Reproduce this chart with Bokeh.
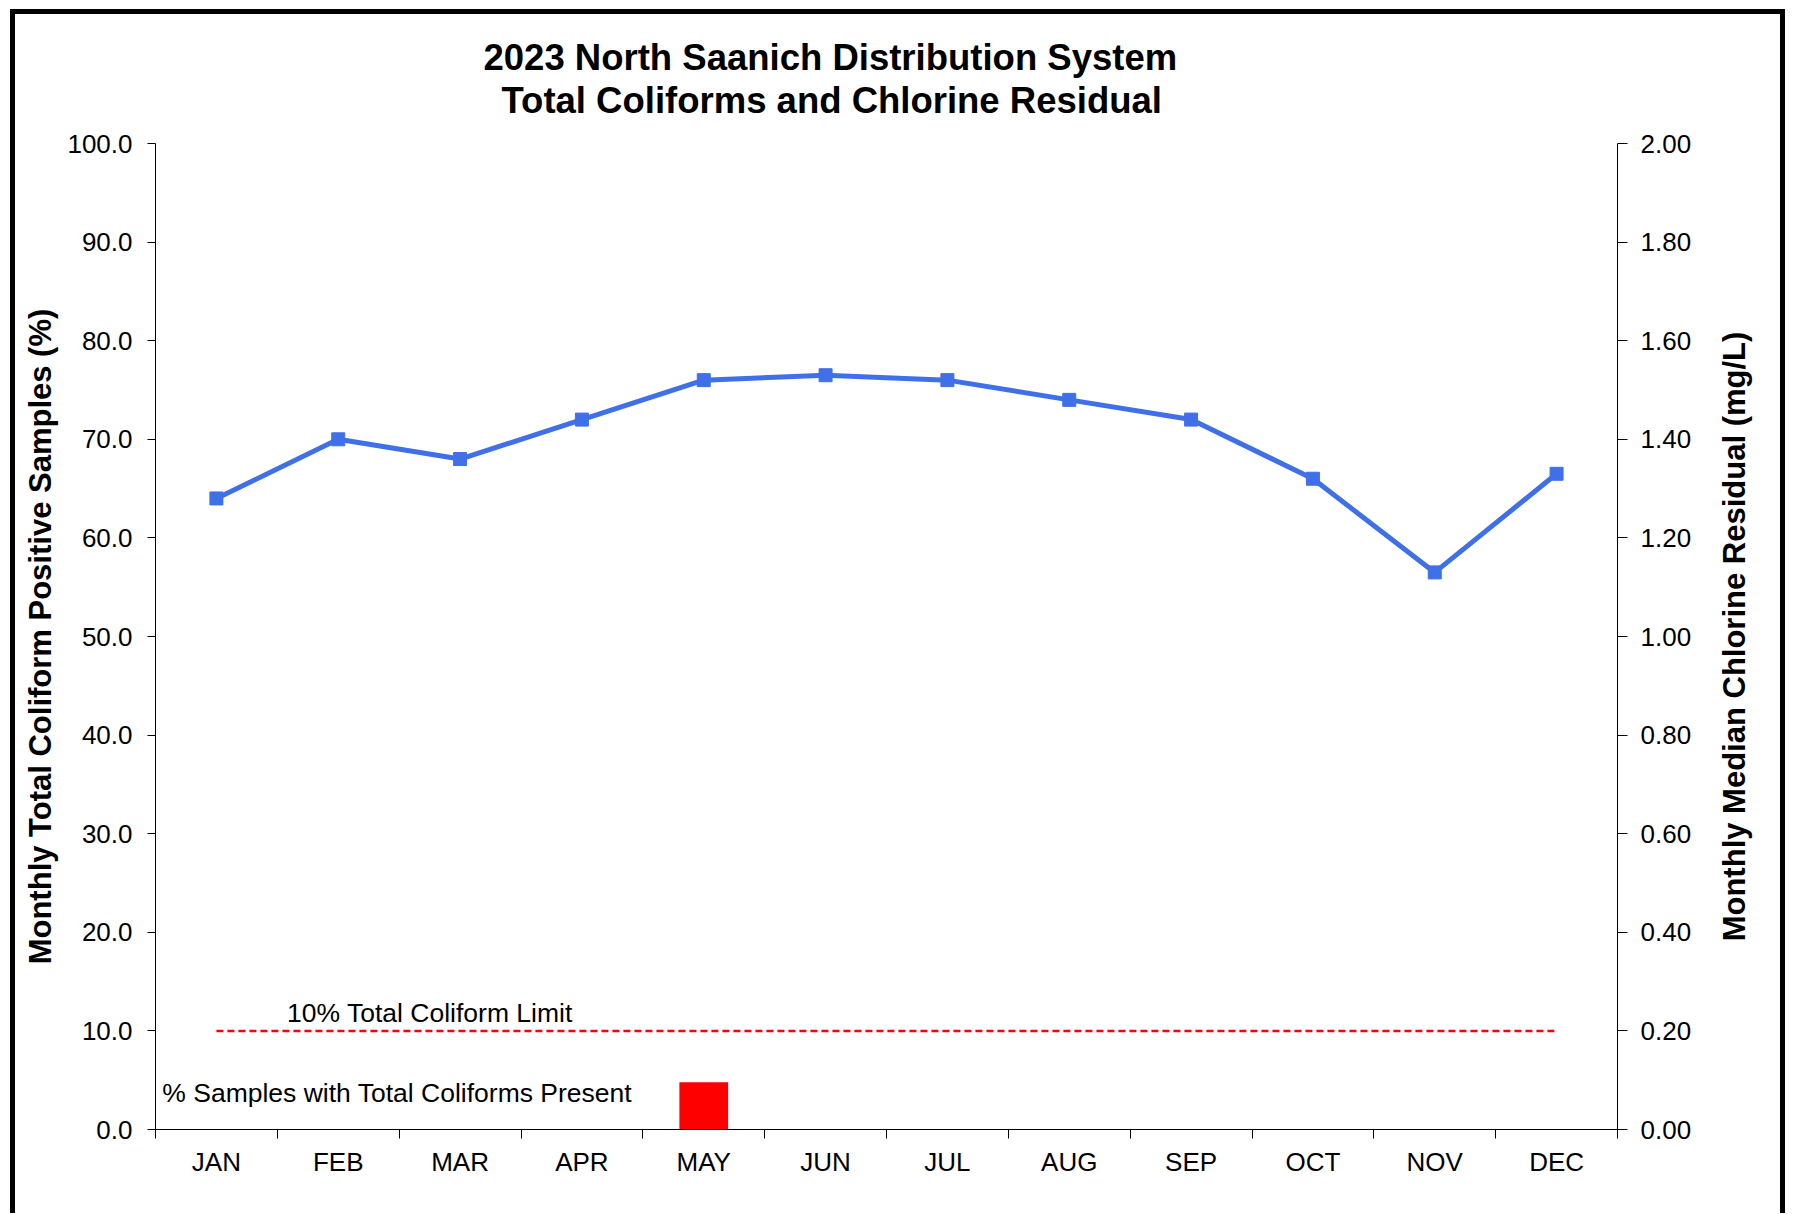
import numpy as np
from bokeh.plotting import figure
from bokeh.layouts import row
from bokeh.models import Range1d, LinearAxis, FixedTicker, NumeralTickFormatter, Label, Title
from bokeh.embed import file_html
from bokeh.resources import INLINE

# ---- data ----
months = ["JAN", "FEB", "MAR", "APR", "MAY", "JUN", "JUL", "AUG", "SEP", "OCT", "NOV", "DEC"]
chlorine_mg_l = [1.28, 1.40, 1.36, 1.44, 1.52, 1.53, 1.52, 1.48, 1.44, 1.32, 1.13, 1.33]
coliform_pct = [0, 0, 0, 0, 4.8, 0, 0, 0, 0, 0, 0, 0]
coliform_limit_pct = 10.0
left_ticks = [0, 10, 20, 30, 40, 50, 60, 70, 80, 90, 100]
right_ticks = [0.0, 0.2, 0.4, 0.6, 0.8, 1.0, 1.2, 1.4, 1.6, 1.8, 2.0]
title_lines = ["2023 North Saanich Distribution System", "Total Coliforms and Chlorine Residual"]
left_label = "Monthly Total Coliform Positive Samples (%)"
right_label = "Monthly Median Chlorine Residual (mg/L)"
limit_label = "10% Total Coliform Limit"
bar_label = "% Samples with Total Coliforms Present"

FONT = "Liberation Sans"
BLUE = "#4070E8"
H = 1204

x = np.arange(len(months)) + 0.5
bounds = list(range(len(months) + 1))

p = figure(width=1695, height=H, output_backend="svg", toolbar_location=None,
           x_range=Range1d(0, len(months)), y_range=Range1d(0, 100),
           min_border_left=140, min_border_right=93, min_border_top=129, min_border_bottom=89,
           background_fill_color="white", border_fill_color="white")
p.extra_y_ranges = {"cl": Range1d(0, 2)}
p.outline_line_color = None
p.xgrid.visible = False
p.ygrid.visible = False
p.styles = {"border-top": "5px solid black", "border-left": "5px solid black"}

# x axis: ticks at boundaries (minor), labels at centres
xa = p.xaxis[0]
xa.ticker = FixedTicker(ticks=list(x), minor_ticks=bounds)
xa.major_label_overrides = {float(xi): m for xi, m in zip(x, months)}
xa.major_tick_out = 0
xa.major_tick_in = 0
xa.minor_tick_out = 9
xa.minor_tick_in = 0
xa.minor_tick_line_color = "black"
xa.axis_line_color = "black"
xa.major_label_text_font = FONT
xa.major_label_text_font_size = "26px"
xa.major_label_text_color = "black"
xa.major_label_standoff = 8

# left axis
ya = p.yaxis[0]
ya.ticker = FixedTicker(ticks=left_ticks)
ya.formatter = NumeralTickFormatter(format="0.0")
ya.major_tick_out = 8
ya.major_tick_in = 0
ya.minor_tick_out = 0
ya.minor_tick_in = 0
ya.axis_line_color = "black"
ya.major_tick_line_color = "black"
ya.major_label_text_font = FONT
ya.major_label_text_font_size = "26px"
ya.major_label_text_color = "black"
ya.major_label_standoff = 15
ya.axis_label = left_label
ya.axis_label_text_font = FONT
ya.axis_label_text_font_size = "31px"
ya.axis_label_text_font_style = "bold"
ya.axis_label_text_color = "black"
ya.axis_label_standoff = 6

# right axis (ticks and numbers)
ra = LinearAxis(y_range_name="cl", ticker=FixedTicker(ticks=right_ticks),
                formatter=NumeralTickFormatter(format="0.00"))
ra.major_tick_out = 10
ra.major_tick_in = 0
ra.minor_tick_out = 0
ra.minor_tick_in = 0
ra.axis_line_color = "black"
ra.major_tick_line_color = "black"
ra.major_label_text_font = FONT
ra.major_label_text_font_size = "26px"
ra.major_label_text_color = "black"
ra.major_label_standoff = 13
p.add_layout(ra, "right")

# bars (% samples with total coliforms)
p.vbar(x=x, top=coliform_pct, width=0.4, fill_color="#FF0000", line_color=None)

# limit line
p.segment(x0=[x[0]], x1=[x[-1]], y0=[coliform_limit_pct], y1=[coliform_limit_pct],
          line_color="#FF0000", line_width=2.5, line_dash="7 4")

# chlorine line
p.line(x, chlorine_mg_l, y_range_name="cl", line_color=BLUE, line_width=5)
p.scatter(x, chlorine_mg_l, y_range_name="cl", marker="square", size=13,
          fill_color=BLUE, line_color=BLUE)

# annotations
p.add_layout(Label(x=1.08, y=11.8, text=limit_label, text_font=FONT, text_font_size="26.5px",
                   text_color="black", text_baseline="middle", text_align="left"))
p.add_layout(Label(x=0.056, y=3.7, text=bar_label, text_font=FONT, text_font_size="26.5px",
                   text_color="black", text_baseline="middle", text_align="left"))

# title: spacer next to the frame, then line 2, then line 1 further out
p.add_layout(Title(text=" ", text_font_size="1px", standoff=20), "above")
p.add_layout(Title(text=title_lines[1], text_font=FONT, text_font_size="36.5px",
                   text_font_style="bold", text_color="black", align="left",
                   offset=346, standoff=0), "above")
p.add_layout(Title(text=title_lines[0], text_font=FONT, text_font_size="36.5px",
                   text_font_style="bold", text_color="black", align="left",
                   offset=328, standoff=0), "above")

# narrow companion figure carrying the right-hand axis title (reads bottom to top)
p2 = figure(width=80, height=H, output_backend="svg", toolbar_location=None,
            x_range=Range1d(0, 1), y_range=Range1d(0, 2),
            min_border_left=53, min_border_right=10, min_border_top=129, min_border_bottom=89,
            background_fill_color="white", border_fill_color="white")
p2.outline_line_color = None
p2.xgrid.visible = False
p2.ygrid.visible = False
p2.xaxis.visible = False
p2.styles = {"border-top": "5px solid black", "border-right": "5px solid black"}
a2 = p2.yaxis[0]
a2.ticker = FixedTicker(ticks=[])
a2.major_tick_out = 0
a2.major_tick_in = 0
a2.minor_tick_out = 0
a2.minor_tick_in = 0
a2.axis_line_color = None
a2.major_label_text_font_size = "0px"
a2.major_label_standoff = 0
a2.axis_label = right_label
a2.axis_label_text_font = FONT
a2.axis_label_text_font_size = "31px"
a2.axis_label_text_font_style = "bold"
a2.axis_label_text_color = "black"
a2.axis_label_standoff = 7

layout = row(p, p2)
layout.styles = {"margin-left": "10px", "margin-top": "9px"}

open("out.html", "w").write(file_html(layout, INLINE))
